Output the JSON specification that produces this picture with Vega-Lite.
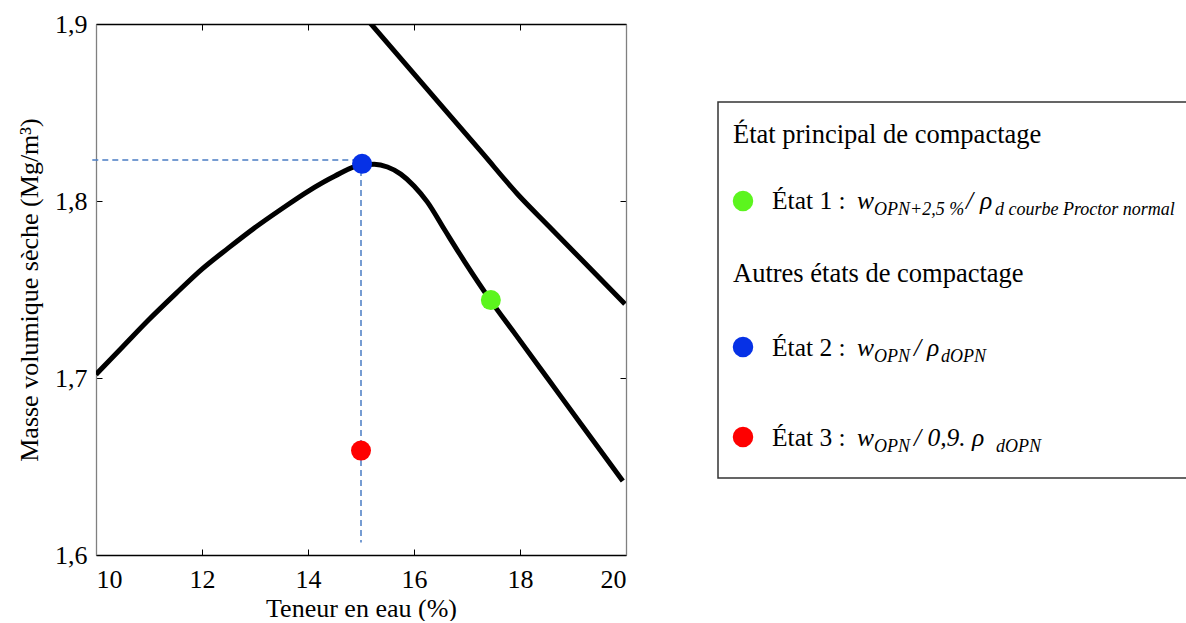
{
  "$schema": "https://vega.github.io/schema/vega-lite/v6.json",
  "background": "white",
  "padding": {"left": 16, "top": 11, "right": 0, "bottom": 0},
  "config": {
    "view": {"stroke": null},
    "font": "Liberation Serif",
    "axis": {
      "labelFont": "Liberation Serif",
      "titleFont": "Liberation Serif",
      "grid": false,
      "labelColor": "black",
      "titleColor": "black",
      "titleFontWeight": "normal",
      "labelFontSize": 26,
      "titleFontSize": 26,
      "tickColor": "black",
      "tickWidth": 1,
      "tickSize": -6,
      "domainWidth": 1.3
    }
  },
  "datasets": {
    "curves": [
      {"curve": "Proctor", "w": 10.0, "rho": 1.702},
      {"curve": "Proctor", "w": 10.5, "rho": 1.7175},
      {"curve": "Proctor", "w": 11.0, "rho": 1.733},
      {"curve": "Proctor", "w": 11.5, "rho": 1.7475},
      {"curve": "Proctor", "w": 12.0, "rho": 1.7615},
      {"curve": "Proctor", "w": 12.5, "rho": 1.7735},
      {"curve": "Proctor", "w": 13.0, "rho": 1.785},
      {"curve": "Proctor", "w": 13.5, "rho": 1.7955},
      {"curve": "Proctor", "w": 14.0, "rho": 1.8055},
      {"curve": "Proctor", "w": 14.5, "rho": 1.814},
      {"curve": "Proctor", "w": 15.0, "rho": 1.8203},
      {"curve": "Proctor", "w": 15.25, "rho": 1.8207},
      {"curve": "Proctor", "w": 15.5, "rho": 1.8192},
      {"curve": "Proctor", "w": 15.75, "rho": 1.8152},
      {"curve": "Proctor", "w": 16.0, "rho": 1.8085},
      {"curve": "Proctor", "w": 16.25, "rho": 1.7995},
      {"curve": "Proctor", "w": 16.58, "rho": 1.7836},
      {"curve": "Proctor", "w": 16.96, "rho": 1.7655},
      {"curve": "Proctor", "w": 17.45, "rho": 1.7436},
      {"curve": "Proctor", "w": 17.9, "rho": 1.7252},
      {"curve": "Proctor", "w": 18.53, "rho": 1.6994},
      {"curve": "Proctor", "w": 19.15, "rho": 1.674},
      {"curve": "Proctor", "w": 19.94, "rho": 1.6418},
      {"curve": "Saturation", "w": 15.1, "rho": 1.9031},
      {"curve": "Saturation", "w": 16.5, "rho": 1.8545},
      {"curve": "Saturation", "w": 17.3, "rho": 1.8267},
      {"curve": "Saturation", "w": 17.96, "rho": 1.8037},
      {"curve": "Saturation", "w": 18.53, "rho": 1.7862},
      {"curve": "Saturation", "w": 19.15, "rho": 1.7672},
      {"curve": "Saturation", "w": 19.98, "rho": 1.7418}
    ],
    "guides": [
      {"x": 9.93, "x2": 15.0, "y": 1.8232, "y2": 1.8232},
      {"x": 15.0, "x2": 15.0, "y": 1.8232, "y2": 1.607}
    ],
    "dots": [
      {"state": "État 1", "w": 17.45, "rho": 1.744},
      {"state": "État 2", "w": 15.02, "rho": 1.821},
      {"state": "État 3", "w": 15.0, "rho": 1.659}
    ],
    "legendBox": [{"x": 0, "x2": 480, "y": 78, "y2": 454}],
    "legendDots": [
      {"state": "État 1", "x": 25, "y": 177},
      {"state": "État 2", "x": 25, "y": 323},
      {"state": "État 3", "x": 25, "y": 413}
    ],
    "legendText": [
      {"kind": "head", "x": 15, "y": 119, "t": "État principal de compactage"},
      {"kind": "head", "x": 15, "y": 258, "t": "Autres états de compactage"},
      {"kind": "label", "x": 54, "y": 185, "t": "État 1 :"},
      {"kind": "math", "x": 139, "y": 185, "t": "w"},
      {"kind": "sub", "x": 156, "y": 191, "t": "OPN+2,5 %"},
      {"kind": "math", "x": 248, "y": 185, "t": "/"},
      {"kind": "math", "x": 262, "y": 185, "t": "ρ"},
      {"kind": "sub", "x": 277, "y": 191, "t": "d courbe Proctor normal"},
      {"kind": "label", "x": 54, "y": 332, "t": "État 2 :"},
      {"kind": "math", "x": 139, "y": 332, "t": "w"},
      {"kind": "sub", "x": 156, "y": 338, "t": "OPN"},
      {"kind": "math", "x": 196, "y": 332, "t": "/"},
      {"kind": "math", "x": 209, "y": 332, "t": "ρ"},
      {"kind": "sub", "x": 223, "y": 338, "t": "dOPN"},
      {"kind": "label", "x": 54, "y": 422, "t": "État 3 :"},
      {"kind": "math", "x": 139, "y": 422, "t": "w"},
      {"kind": "sub", "x": 156, "y": 428, "t": "OPN"},
      {"kind": "math", "x": 196, "y": 422, "t": "/ 0,9. ρ"},
      {"kind": "sub", "x": 278, "y": 428, "t": "dOPN"}
    ]
  },
  "spacing": 92,
  "bounds": "flush",
  "hconcat": [
    {
      "width": 530,
      "height": 531,
      "layer": [
        {
          "data": {"name": "curves"},
          "mark": {"type": "line", "color": "black", "strokeWidth": 5, "clip": true, "interpolate": "monotone"},
          "encoding": {
            "x": {"field": "w", "type": "quantitative", "scale": {"domain": [10, 20], "nice": false, "zero": false},
                  "axis": {"orient": "bottom", "values": [10, 12, 14, 16, 18, 20], "title": "Teneur en eau (%)", "domainColor": "black", "labelPadding": 17, "titlePadding": 3}},
            "y": {"field": "rho", "type": "quantitative", "scale": {"domain": [1.6, 1.9], "nice": false, "zero": false},
                  "axis": {"orient": "left", "values": [1.6, 1.7, 1.8, 1.9], "labelExpr": "replace(format(datum.value, '.1f'), '.', ',')", "title": "Masse volumique sèche (Mg/m³)", "domainColor": "#808080", "labelPadding": 15, "titlePadding": 12}},
            "detail": {"field": "curve"}
          }
        },
        {
          "data": {"name": "guides"},
          "mark": {"type": "rule", "color": "#4a7cc4", "strokeWidth": 1.5, "strokeDash": [6, 4]},
          "encoding": {
            "x": {"field": "x", "type": "quantitative", "axis": null},
            "x2": {"field": "x2"},
            "y": {"field": "y", "type": "quantitative", "axis": null},
            "y2": {"field": "y2"}
          }
        },
        {
          "data": {"name": "dots"},
          "mark": {"type": "circle", "size": 400, "opacity": 1},
          "encoding": {
            "x": {"field": "w", "type": "quantitative", "axis": null},
            "y": {"field": "rho", "type": "quantitative", "axis": null},
            "color": {"field": "state", "type": "nominal", "scale": {"domain": ["État 1", "État 2", "État 3"], "range": ["#5cf51e", "#0631e6", "#fe0000"]}, "legend": null}
          }
        },
        {
          "data": {"name": "curves"},
          "mark": {"type": "point", "opacity": 0},
          "encoding": {
            "x": {"field": "w", "type": "quantitative", "axis": {"orient": "top", "values": [10, 12, 14, 16, 18, 20], "labels": false, "title": null, "domainColor": "black"}},
            "y": {"field": "rho", "type": "quantitative", "axis": {"orient": "right", "values": [1.6, 1.7, 1.8, 1.9], "labels": false, "title": null, "domainColor": "#808080"}}
          }
        }
      ],
      "resolve": {"axis": {"x": "independent", "y": "independent"}}
    },
    {
      "width": 466,
      "height": 531,
      "layer": [
        {
          "data": {"name": "legendBox"},
          "mark": {"type": "rect", "filled": false, "stroke": "#333333", "strokeWidth": 1.5},
          "encoding": {
            "x": {"field": "x", "type": "quantitative", "scale": {"domain": [0, 466], "nice": false, "zero": false}, "axis": null},
            "x2": {"field": "x2"},
            "y": {"field": "y", "type": "quantitative", "scale": {"domain": [0, 531], "nice": false, "zero": false, "reverse": true}, "axis": null},
            "y2": {"field": "y2"}
          }
        },
        {
          "data": {"name": "legendDots"},
          "mark": {"type": "circle", "size": 420, "opacity": 1},
          "encoding": {
            "x": {"field": "x", "type": "quantitative", "axis": null},
            "y": {"field": "y", "type": "quantitative", "axis": null},
            "color": {"field": "state", "type": "nominal", "scale": {"domain": ["État 1", "État 2", "État 3"], "range": ["#5cf51e", "#0631e6", "#fe0000"]}, "legend": null}
          }
        },
        {
          "data": {"name": "legendText"},
          "transform": [{"filter": "datum.kind === 'head'"}],
          "mark": {"type": "text", "align": "left", "baseline": "alphabetic", "fontSize": 26.5, "font": "Liberation Serif", "color": "black"},
          "encoding": {
            "x": {"field": "x", "type": "quantitative", "axis": null},
            "y": {"field": "y", "type": "quantitative", "axis": null},
            "text": {"field": "t"}
          }
        },
        {
          "data": {"name": "legendText"},
          "transform": [{"filter": "datum.kind === 'label'"}],
          "mark": {"type": "text", "align": "left", "baseline": "alphabetic", "fontSize": 25.5, "font": "Liberation Serif", "color": "black"},
          "encoding": {
            "x": {"field": "x", "type": "quantitative", "axis": null},
            "y": {"field": "y", "type": "quantitative", "axis": null},
            "text": {"field": "t"}
          }
        },
        {
          "data": {"name": "legendText"},
          "transform": [{"filter": "datum.kind === 'math'"}],
          "mark": {"type": "text", "align": "left", "baseline": "alphabetic", "fontSize": 25.5, "fontStyle": "italic", "font": "Liberation Serif", "color": "black"},
          "encoding": {
            "x": {"field": "x", "type": "quantitative", "axis": null},
            "y": {"field": "y", "type": "quantitative", "axis": null},
            "text": {"field": "t"}
          }
        },
        {
          "data": {"name": "legendText"},
          "transform": [{"filter": "datum.kind === 'sub'"}],
          "mark": {"type": "text", "align": "left", "baseline": "alphabetic", "fontSize": 18, "fontStyle": "italic", "font": "Liberation Serif", "color": "black"},
          "encoding": {
            "x": {"field": "x", "type": "quantitative", "axis": null},
            "y": {"field": "y", "type": "quantitative", "axis": null},
            "text": {"field": "t"}
          }
        }
      ]
    }
  ]
}
